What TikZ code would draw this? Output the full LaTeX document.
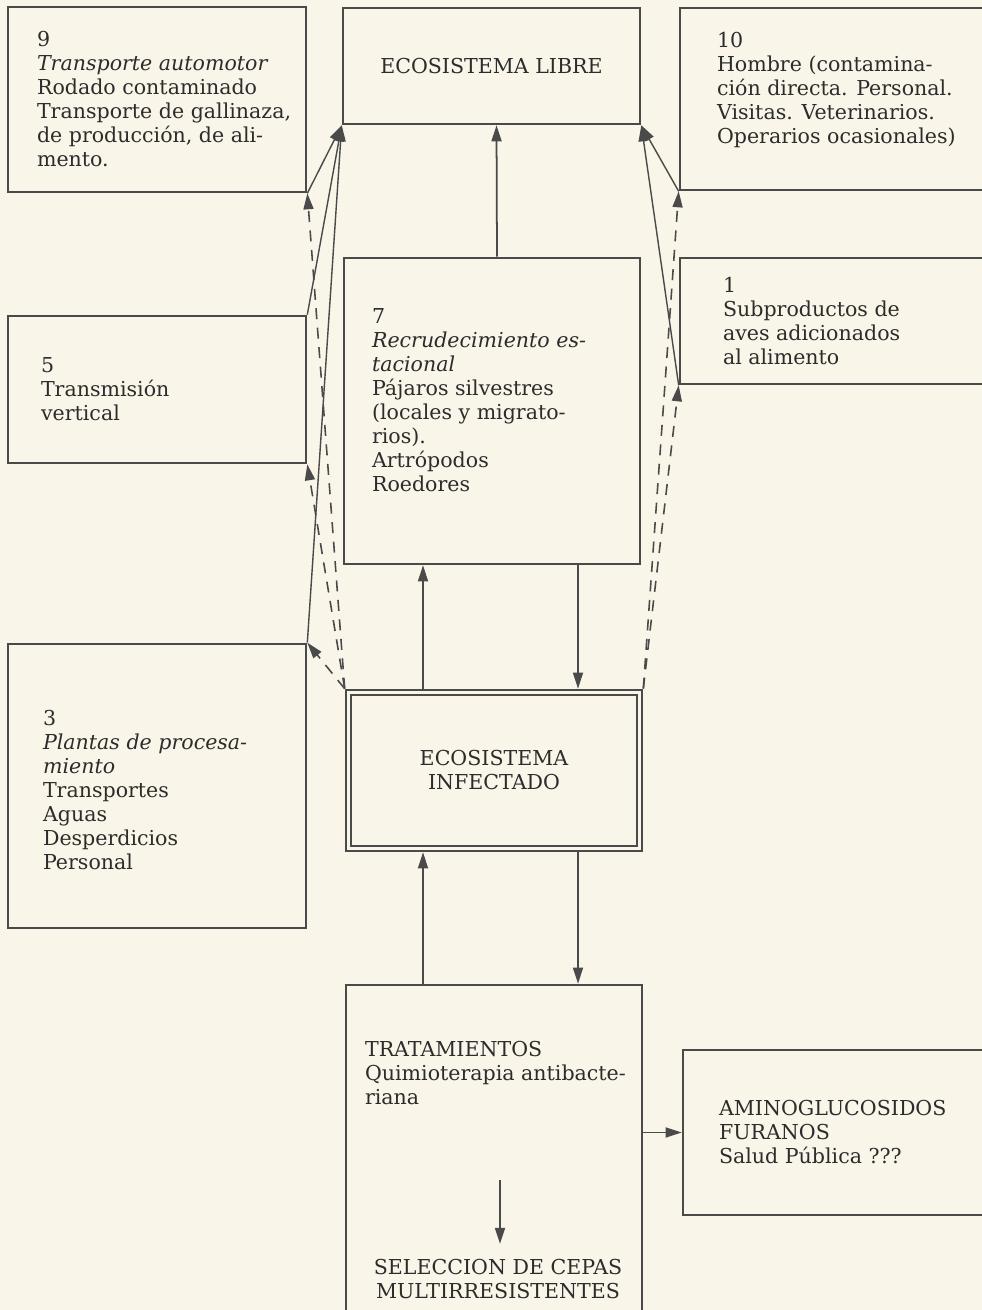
\documentclass[tikz,border=0pt]{standalone}
\usepackage{fontspec}
\setmainfont{DejaVu Serif}
\usetikzlibrary{arrows.meta,positioning}
\definecolor{papel}{RGB}{249,245,233}
\definecolor{tinta}{RGB}{74,74,74}
\tikzset{
  caja/.style={draw=tinta,line width=1.5pt,inner sep=0pt},
  texto/.style={inner sep=0pt,align=left,text=tinta!60!black,font=\fontsize{11.7}{13.66}\selectfont},
  titulo/.style={texto,align=center},
  flecha/.style={draw=tinta,line width=1pt,-{Triangle[length=3.2mm,width=2mm]}},
  flechaf/.style={draw=tinta,line width=0.8pt,-{Triangle[length=3.2mm,width=2mm]}},
  flechat/.style={flechaf,line width=0.9pt,dash pattern=on 2.2mm off 1.7mm},
}
\begin{document}
\begin{tikzpicture}
  \useasboundingbox (0,0) rectangle (19.64,26.2);
  \fill[papel] (0,0) rectangle (19.64,26.2);
  \clip (0,0) rectangle (19.64,26.2);
  % fila superior
  \node[caja,minimum width=5.96cm,minimum height=3.7cm] (c9) at (3.14,24.21) {};
  \node[caja,titulo,minimum width=5.94cm,minimum height=2.32cm] (libre) at (9.83,24.88) {ECOSISTEMA LIBRE};
  \node[caja,minimum width=6.9cm,minimum height=3.64cm] (c10) at (17.05,24.22) {};
  \node[texto,right=6mm of c9.west] (t9) {9\\\textit{Transporte automotor}\\Rodado contaminado\\Transporte de gallinaza,\\de producción, de ali-\\mento.};
  \node[texto,right=7.6mm of c10.west,yshift=1.8mm] (t10) {10\\Hombre (contamina-\\ción directa. Personal.\\Visitas. Veterinarios.\\Operarios ocasionales)};
  % fila media
  \node[caja,minimum width=5.96cm,minimum height=2.94cm] (c5) at (3.14,18.41) {};
  \node[caja,minimum width=5.92cm,minimum height=6.12cm] (c7) at (9.84,17.98) {};
  \node[caja,minimum width=6.9cm,minimum height=2.52cm] (c1) at (17.05,19.78) {};
  \node[texto,right=6.8mm of c5.west] (t5) {5\\Transmisión\\vertical};
  \node[texto,right=5.8mm of c7.west,yshift=2.2mm] (t7) {7\\\textit{Recrudecimiento es-}\\\textit{tacional}\\Pájaros silvestres\\(locales y migrato-\\rios).\\Artrópodos\\Roedores};
  \node[texto,right=8.8mm of c1.west] (t1) {1\\Subproductos de\\aves adicionados\\al alimento};
  % ecosistema infectado
  \node[caja,minimum width=5.96cm,minimum height=5.68cm] (c3) at (3.14,10.48) {};
  \node[texto,right=7.2mm of c3.west,yshift=-0.8mm] (t3) {3\\\textit{Plantas de procesa-}\\\textit{miento}\\Transportes\\Aguas\\Desperdicios\\Personal};
  \node[caja,titulo,minimum width=5.92cm,minimum height=3.22cm] (inf) at (9.88,10.79) {ECOSISTEMA\\INFECTADO};
  \draw[tinta,line width=1.3pt] ([shift={(1.3mm,-1.3mm)}]inf.north west) rectangle ([shift={(-1.3mm,1.3mm)}]inf.south east);
  % tratamientos
  \node[caja,minimum width=5.92cm,minimum height=8cm] (trat) at (9.88,2.5) {};
  \node[texto,anchor=north west] (tq) at ([xshift=4mm,yshift=-11.5mm]trat.north west) {TRATAMIENTOS\\Quimioterapia antibacte-\\riana};
  \node[titulo,inner ysep=3mm] (sel) at (9.96,0.62) {SELECCION DE CEPAS\\MULTIRRESISTENTES};
  \node[caja,minimum width=6.84cm,minimum height=3.3cm] (amino) at (17.08,3.55) {};
  \node[texto,right=7.4mm of amino.west] (ta) {AMINOGLUCOSIDOS\\FURANOS\\Salud Pública ???};
  % flechas centrales
  \coordinate (xb) at (11.56,0);
  \coordinate (xs) at (8.46,0);
  \coordinate (p) at (10,2.6);
  \draw[flecha] ([xshift=1mm]c7.north) -- ([xshift=1mm]libre.south);
  \draw[flecha] (c7.south -| xb) -- (inf.north -| xb);
  \draw[flecha] (inf.north -| xs) -- (c7.south -| xs);
  \draw[flecha] (inf.south -| xb) -- (trat.north -| xb);
  \draw[flecha] (trat.north -| xs) -- (inf.south -| xs);
  \draw[flecha] (p) -- (sel.north -| p);
  \draw[flecha] (trat.east |- amino.west) -- (amino.west);
  % abanicos hacia el ecosistema libre
  \foreach \n in {c9.south east,c5.north east,c3.north east}
    \draw[flechaf] (\n) -- (libre.south west);
  \foreach \n in {c10.south west,c1.south west}
    \draw[flechaf] (\n) -- (libre.south east);
  % retorno desde el ecosistema infectado
  \foreach \n in {c9.south east,c5.south east,c3.north east}
    \draw[flechat] (inf.north west) -- (\n);
  \foreach \n in {c10.south west,c1.south west}
    \draw[flechat] (inf.north east) -- (\n);
\end{tikzpicture}
\end{document}
